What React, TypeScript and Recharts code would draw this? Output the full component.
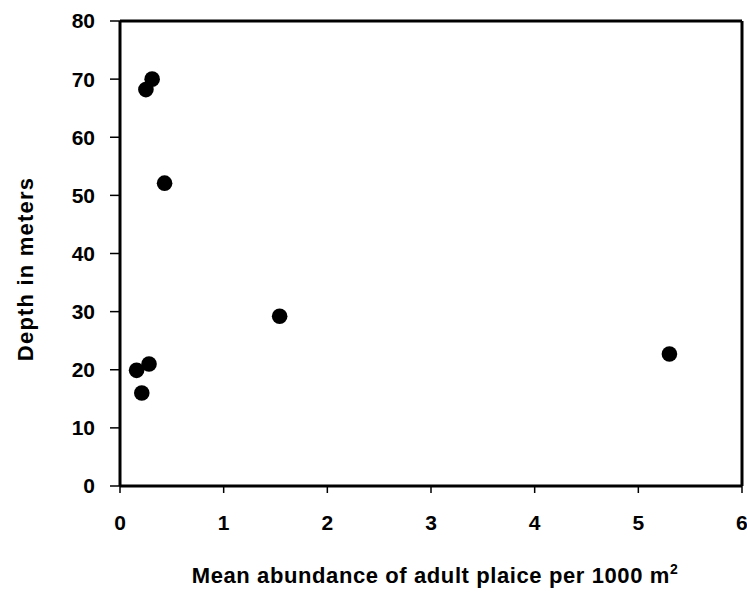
import { ReferenceLine, Scatter, ScatterChart, XAxis, YAxis } from "recharts";

// mean abundance of adult plaice per 1000 m² at each station
const abundance = [0.31, 0.25, 0.43, 1.54, 5.3, 0.16, 0.28, 0.21];
// station depth in meters
const depth = [70, 68.2, 52.1, 29.2, 22.7, 19.9, 21, 16];

const xTicks = [0, 1, 2, 3, 4, 5, 6];
const yTicks = [0, 10, 20, 30, 40, 50, 60, 70, 80];

const data = abundance.map((x, i) => ({ x, y: depth[i] }));

const font = "'Liberation Sans', Arial, sans-serif";
const tickStyle = { fill: "#000", fontSize: 21, fontWeight: 700, fontFamily: font };

export default function App() {
  return (
    <div style={{ position: "absolute", left: 0, top: 0, background: "#fff" }}>
      <ScatterChart width={747} height={592} margin={{ top: 21, right: 5, left: 0, bottom: 0 }}>
        <XAxis
          type="number"
          dataKey="x"
          domain={[0, 6]}
          ticks={xTicks}
          height={106}
          axisLine={{ stroke: "#000", strokeWidth: 3 }}
          tickLine={{ stroke: "#000", strokeWidth: 1.5 }}
          tickSize={7}
          tickMargin={22}
          tick={tickStyle}
          label={() => (
            <text
              x={435}
              y={583}
              textAnchor="middle"
              fontFamily={font}
              fontWeight={700}
              fontSize={22}
              letterSpacing={0.6}
              fill="#000"
            >
              Mean abundance of adult plaice per 1000 m
              <tspan dy={-9} fontSize={14}>
                2
              </tspan>
            </text>
          )}
        />
        <YAxis
          type="number"
          dataKey="y"
          domain={[0, 80]}
          ticks={yTicks}
          width={120}
          axisLine={{ stroke: "#000", strokeWidth: 3 }}
          tickLine={{ stroke: "#000", strokeWidth: 1.5 }}
          tickSize={10}
          tickMargin={15}
          tick={tickStyle}
          label={() => (
            <text
              x={33}
              y={269}
              transform="rotate(-90 33 269)"
              textAnchor="middle"
              fontFamily={font}
              fontWeight={700}
              fontSize={22}
              letterSpacing={1.2}
              fill="#000"
            >
              Depth in meters
            </text>
          )}
        />
        {/* closing frame on the top and right */}
        <ReferenceLine y={80} stroke="#000" strokeWidth={3} />
        <ReferenceLine x={6} stroke="#000" strokeWidth={3} />
        <Scatter
          data={data}
          fill="#000"
          isAnimationActive={false}
          shape={(p: any) => <circle cx={p.cx} cy={p.cy} r={7.8} fill="#000" />}
        />
      </ScatterChart>
    </div>
  );
}
